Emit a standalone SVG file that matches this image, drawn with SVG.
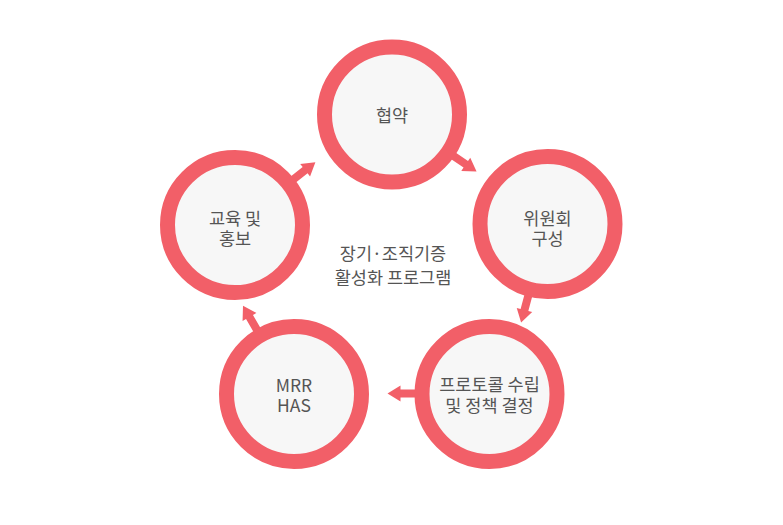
<svg xmlns="http://www.w3.org/2000/svg" xmlns:xlink="http://www.w3.org/1999/xlink" width="783" height="525" viewBox="0 0 783 525">
  <style>
    .ring { fill: #f7f7f7; stroke: #f25f68; stroke-width: 15; }
    .arrow { fill: #f25f68; }
    .lbl { font-family: "Noto Sans CJK KR", "Noto Sans", sans-serif; font-size: 17.5px; fill: #555555; text-anchor: middle; }
  </style>
  <defs>
    <path id="arr" d="M58,-4 H89 V-8 L102,0 L89,8 V4 H58 Z"/>
  </defs>
  <rect width="783" height="525" fill="#ffffff"/>
  <g id="connectors" class="arrow">
    <use xlink:href="#arr" transform="translate(392,114.5) rotate(34)"/>
    <use xlink:href="#arr" transform="translate(547.5,224) rotate(105)"/>
    <use xlink:href="#arr" transform="translate(489.5,393.5) rotate(180)"/>
    <use xlink:href="#arr" transform="translate(294,394) rotate(240)"/>
    <use xlink:href="#arr" transform="translate(235,225) rotate(-38)"/>
  </g>
  <g id="node-hyeobyak">
    <circle class="ring" cx="392" cy="114.5" r="67.5"/>
    <text class="lbl" x="392" y="122">협약</text>
  </g>
  <g id="node-committee">
    <circle class="ring" cx="547.5" cy="224" r="67.5"/>
    <text class="lbl" x="547.5" y="224.5">위원회</text>
    <text class="lbl" x="547.5" y="245">구성</text>
  </g>
  <g id="node-protocol">
    <circle class="ring" cx="489.5" cy="394" r="67.5"/>
    <text class="lbl" x="489.5" y="391">프로토콜 수립</text>
    <text class="lbl" x="489.5" y="412">및 정책 결정</text>
  </g>
  <g id="node-mrr">
    <circle class="ring" cx="294" cy="394" r="67.5"/>
    <text class="lbl" x="294" y="392">MRR</text>
    <text class="lbl" x="294" y="412">HAS</text>
  </g>
  <g id="node-education">
    <circle class="ring" cx="235" cy="225" r="67.5"/>
    <text class="lbl" x="235" y="224.5">교육 및</text>
    <text class="lbl" x="235" y="245">홍보</text>
  </g>
  <g id="center-label">
    <text class="lbl" x="393" y="259.5">장기·조직기증</text>
    <text class="lbl" x="393" y="284">활성화 프로그램</text>
  </g>
</svg>
